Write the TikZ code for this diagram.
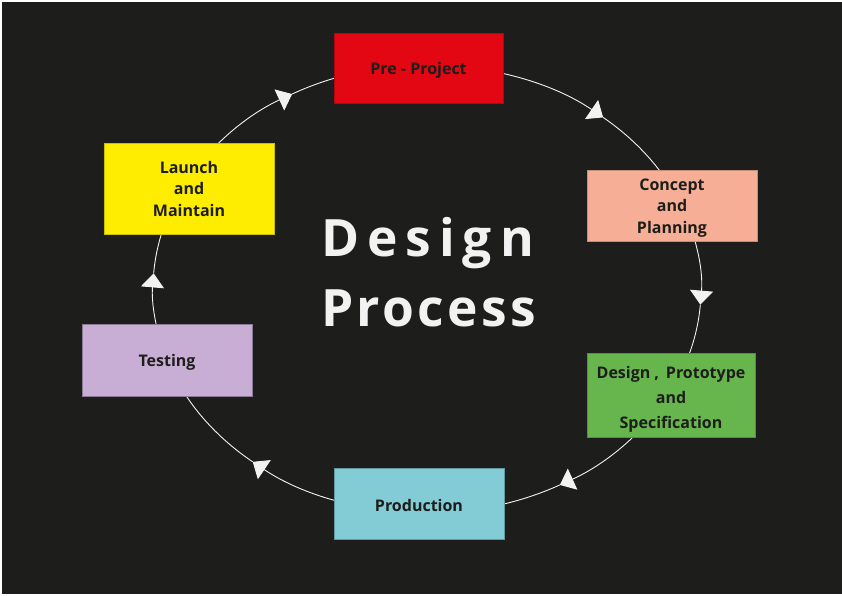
\documentclass[tikz,border=0pt]{standalone}
\usepackage{fontspec}
\setmainfont{Open Sans}
\newfontfamily\titlefontA{Open Sans}[LetterSpace=15.5]
\newfontfamily\titlefontB{Open Sans}[LetterSpace=6.5]
\usetikzlibrary{arrows.meta}
\definecolor{bgdark}{HTML}{1D1D1B}
\definecolor{inkdark}{HTML}{1D1D1B}
\definecolor{linewhite}{HTML}{F2F2F2}
\definecolor{cred}{HTML}{E30613}
\definecolor{csalmon}{HTML}{F6AF96}
\definecolor{cgreen}{HTML}{66B54D}
\definecolor{cteal}{HTML}{83CCD6}
\definecolor{clav}{HTML}{C8AED4}
\definecolor{cyellow}{HTML}{FFED00}
\tikzset{
  box/.style={rectangle, inner sep=0pt, line width=0.8pt},
  boxtext/.style={inner sep=0pt, align=center, text=inkdark,
    font=\fontsize{16}{21.5}\selectfont\bfseries},
  oneline/.style={text depth=0pt},
  flowtip/.style={draw=linewhite, line width=0.9pt,
    -{Triangle[width=23pt,length=14pt,fill=linewhite]}},
  flowline/.style={draw=linewhite, line width=0.9pt},
  ell/.style={x radius=274, y radius=224},
  titletext/.style={text=linewhite, align=left, inner sep=0pt, anchor=west,
    font=\fontsize{51.5}{70}\selectfont\bfseries}
}
\begin{document}
\begin{tikzpicture}[x=1pt,y=-1pt]
  \useasboundingbox (0,0) rectangle (842,595);
  \fill[white] (0,0) rectangle (842,595);
  \fill[bgdark] (2,2) rectangle (842,594);
  % points on the ellipse (centre 427,289; radii 274, 224): box points
  \coordinate (e1) at ({427+274*cos(-90)},{289+224*sin(-90)});
  \coordinate (e2) at ({427+274*cos(-23)},{289+224*sin(-23)});
  \coordinate (e3) at ({427+274*cos(28)},{289+224*sin(28)});
  \coordinate (e4) at ({427+274*cos(90)},{289+224*sin(90)});
  \coordinate (e5) at ({427+274*cos(162)},{289+224*sin(162)});
  \coordinate (e6) at ({427+274*cos(207)},{289+224*sin(207)});
  % arrow-tip points
  \coordinate (t1) at ({427+274*cos(-50)},{289+224*sin(-50)});
  \coordinate (t2) at ({427+274*cos(4)},{289+224*sin(4)});
  \coordinate (t3) at ({427+274*cos(61)},{289+224*sin(61)});
  \coordinate (t4) at ({427+274*cos(129.5)},{289+224*sin(129.5)});
  \coordinate (t5) at ({427+274*cos(184)},{289+224*sin(184)});
  \coordinate (t6) at ({427+274*cos(240.5)},{289+224*sin(240.5)});
  % connectors
  \draw[flowtip] (e1) arc[start angle=-90, end angle=-50, ell];
  \draw[flowline] (t1) arc[start angle=-50, end angle=-23, ell];
  \draw[flowtip] (e2) arc[start angle=-23, end angle=4, ell];
  \draw[flowline] (t2) arc[start angle=4, end angle=28, ell];
  \draw[flowtip] (e3) arc[start angle=28, end angle=61, ell];
  \draw[flowline] (t3) arc[start angle=61, end angle=90, ell];
  \draw[flowtip] (e4) arc[start angle=90, end angle=129.5, ell];
  \draw[flowline] (t4) arc[start angle=129.5, end angle=162, ell];
  \draw[flowtip] (e5) arc[start angle=162, end angle=184, ell];
  \draw[flowline] (t5) arc[start angle=184, end angle=207, ell];
  \draw[flowtip] (e6) arc[start angle=207, end angle=240.5, ell];
  \draw[flowline] (t6) arc[start angle=240.5, end angle=270, ell];
  % boxes
  \node[box, fill=cred, draw=cred!80!black, minimum width=169pt, minimum height=70pt,
        label={[boxtext, oneline]center:Pre - Project}] (pre) at (418.5,68) {};
  \node[box, fill=csalmon, draw=csalmon!80!black, minimum width=170pt, minimum height=71pt,
        label={[boxtext, yshift=-2.5pt]center:{Concept\\and\\Planning}}] (concept) at (672,205.5) {};
  \node[box, fill=cgreen, draw=cgreen!80!black, minimum width=168pt, minimum height=84pt,
        label={[boxtext, yshift=-4pt, font=\fontsize{16}{25}\selectfont\bfseries]center:{Design ,\ \,Prototype\\and\\Specification}}] (design) at (671,395.5) {};
  \node[box, fill=cteal, draw=cteal!75!black, minimum width=170pt, minimum height=71pt,
        label={[boxtext, oneline, yshift=-1.5pt]center:Production}] (prod) at (419,503.5) {};
  \node[box, fill=clav, draw=clav!70!black, minimum width=170pt, minimum height=72pt,
        label={[boxtext, oneline]center:Testing}] (test) at (167,360) {};
  \node[box, fill=cyellow, draw=cyellow!80!black, minimum width=170pt, minimum height=91pt,
        label={[boxtext]center:{Launch\\and\\Maintain}}] (launch) at (189,188.5) {};
  % title
  \node[titletext] (ttl) at (321,272) {{\titlefontA Design}\\{\titlefontB Process}};
\end{tikzpicture}
\end{document}
